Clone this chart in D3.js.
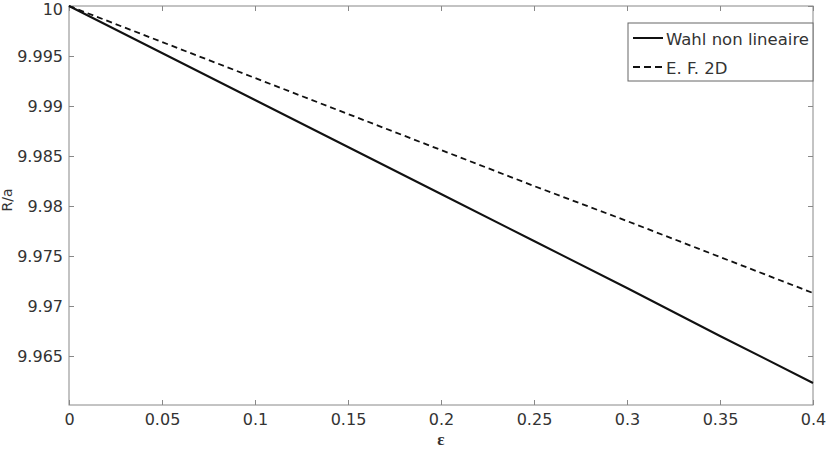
<!DOCTYPE html>
<html>
<head>
<meta charset="utf-8">
<script src="https://cdn.jsdelivr.net/npm/d3@7"></script>
<style>
  body { margin: 0; background: #fff; }
  text { font-family: "DejaVu Sans", sans-serif; fill: #333; }
</style>
</head>
<body>
<script>
// chart data
let epsValues = [0, 0.05, 0.1, 0.15, 0.2, 0.25, 0.3, 0.35, 0.4];
let wahlValues = [10, 9.9953, 9.9906, 9.9859, 9.9812, 9.9765, 9.9718, 9.9670, 9.9623];
let efValues = [10, 9.9964, 9.9928, 9.9892, 9.9856, 9.9820, 9.9785, 9.9749, 9.9713];
let xTicks = [0, 0.05, 0.1, 0.15, 0.2, 0.25, 0.3, 0.35, 0.4];
let yTicks = [9.965, 9.97, 9.975, 9.98, 9.985, 9.99, 9.995, 10];
let seriesNames = ["Wahl non lineaire", "E. F. 2D"];

let svgWidth = 828;
let svgHeight = 456;
let margin = { top: 6, right: 15, bottom: 51, left: 69 };
let chartWidth = svgWidth - margin.left - margin.right;
let chartHeight = svgHeight - margin.top - margin.bottom;

let svg = d3.select("body")
  .append("svg")
  .attr("width", svgWidth)
  .attr("height", svgHeight);

let chartGroup = svg.append("g")
  .attr("transform", `translate(${margin.left}, ${margin.top})`);

let xScale = d3.scaleLinear([0, 0.4], [0, chartWidth]);
let yScale = d3.scaleLinear([9.9601, 10], [chartHeight, 0]);

let axisColor = "#888";
let tickLen = 5;

// box
chartGroup.append("rect")
  .attr("width", chartWidth)
  .attr("height", chartHeight)
  .attr("fill", "none")
  .attr("stroke", axisColor)
  .attr("stroke-width", 1);

// inward ticks on all sides
let fmt = d => String(+d.toFixed(3));

let xAxis = chartGroup.append("g")
  .attr("transform", `translate(0, ${chartHeight})`)
  .call(d3.axisBottom(xScale).tickValues(xTicks).tickSize(-tickLen).tickPadding(9).tickFormat(fmt));
let xAxisTop = chartGroup.append("g")
  .call(d3.axisTop(xScale).tickValues(xTicks).tickSize(-tickLen).tickFormat(""));
let yAxis = chartGroup.append("g")
  .call(d3.axisLeft(yScale).tickValues(yTicks).tickSize(-tickLen).tickPadding(6).tickFormat(fmt));
let yAxisRight = chartGroup.append("g")
  .attr("transform", `translate(${chartWidth}, 0)`)
  .call(d3.axisRight(yScale).tickValues(yTicks).tickSize(-tickLen).tickFormat(""));

[xAxis, xAxisTop, yAxis, yAxisRight].forEach(a => {
  a.select(".domain").remove();
  a.selectAll(".tick line").attr("stroke", axisColor);
  a.selectAll(".tick text")
    .style("font-family", "'DejaVu Sans', sans-serif")
    .style("font-size", "16px")
    .attr("fill", "#333");
});

// top label sits a little lower so it stays inside the page
yAxis.selectAll(".tick text")
  .filter(d => d === 10)
  .attr("y", 3);

// lines
let wahlData = epsValues.map((e, i) => ({ x: e, y: wahlValues[i] }));
let efData = epsValues.map((e, i) => ({ x: e, y: efValues[i] }));

let line = d3.line()
  .x(d => xScale(d.x))
  .y(d => yScale(d.y));

chartGroup.append("path")
  .datum(efData)
  .attr("d", line)
  .attr("fill", "none")
  .attr("stroke", "#111")
  .attr("stroke-width", 1.8)
  .attr("stroke-dasharray", "6,4");

chartGroup.append("path")
  .datum(wahlData)
  .attr("d", line)
  .attr("fill", "none")
  .attr("stroke", "#111")
  .attr("stroke-width", 2);

// axis labels
svg.append("text")
  .attr("x", margin.left + xScale(0.2))
  .attr("y", 445)
  .style("text-anchor", "middle")
  .style("font-family", "'Liberation Serif', 'DejaVu Serif', serif")
  .style("font-size", "17px")
  .style("font-weight", "bold")
  .text("ε");

svg.append("text")
  .attr("transform", "translate(12, 200) rotate(-90)")
  .style("text-anchor", "middle")
  .style("font-size", "14px")
  .text("R/a");

// legend
let legend = svg.append("g")
  .attr("transform", "translate(628, 23)");

legend.append("rect")
  .attr("width", 185)
  .attr("height", 58)
  .attr("fill", "#fff")
  .attr("stroke", "#666")
  .attr("stroke-width", 1);

seriesNames.forEach((name, i) => {
  let y = 15 + i * 29;
  legend.append("line")
    .attr("x1", 5).attr("x2", 35)
    .attr("y1", y).attr("y2", y)
    .attr("stroke", "#111")
    .attr("stroke-width", i === 0 ? 2 : 1.8)
    .attr("stroke-dasharray", i === 0 ? null : "7,4");
  legend.append("text")
    .attr("x", 38)
    .attr("y", y + 7)
    .style("font-size", "16.5px")
    .text(name);
});
</script>
</body>
</html>
